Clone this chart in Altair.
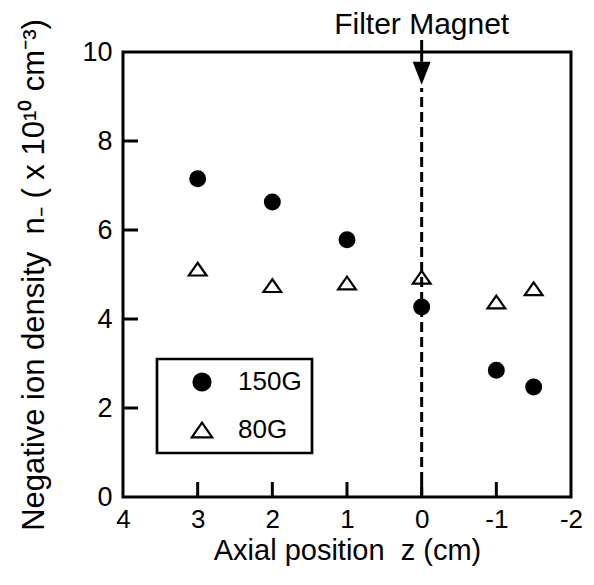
import altair as alt
import pandas as pd

# ---- data ----
series_names = ["150G", "80G"]
z_150 = [3, 2, 1, 0, -1, -1.5]
n_150 = [7.15, 6.63, 5.78, 4.27, 2.85, 2.47]
z_80 = [3, 2, 1, 0, -1, -1.5]
n_80 = [5.12, 4.75, 4.81, 4.94, 4.38, 4.68]

x_tick_values = [4, 3, 2, 1, 0, -1, -2]
y_tick_values = [0, 2, 4, 6, 8, 10]
x_inner_ticks = [3, 2, 1, 0, -1]
y_inner_ticks = [2, 4, 6, 8]

magnet_z = [0]
dash_bottom = [0]
dash_top = [9.19]
arrow_start = [10.27]
arrow_end = [9.78]
arrow_head = [9.52]
magnet_label_y = [10.4]
magnet_label = ["Filter Magnet"]

FONT = "Liberation Sans, Arial, Helvetica, sans-serif"
TRI = "M0,-0.86L-1.2,0.86L1.2,0.86Z"
ARROW = "M-0.78,-1L0.78,-1L0,1Z"
NB = "\u00a0"

pts = pd.DataFrame({
    "z": z_150 + z_80,
    "n": n_150 + n_80,
    "series": [series_names[0]] * len(z_150) + [series_names[1]] * len(z_80),
})
dash_df = pd.DataFrame({"z": magnet_z, "n": dash_bottom, "n2": dash_top})
shaft_df = pd.DataFrame({"z": magnet_z, "n": arrow_start, "n2": arrow_end})
head_df = pd.DataFrame({"z": magnet_z, "n": arrow_head})
label_df = pd.DataFrame({"z": magnet_z, "n": magnet_label_y, "label": magnet_label})
xt_df = pd.DataFrame({"z": x_inner_ticks})
yt_df = pd.DataFrame({"n": y_inner_ticks})

x_scale = alt.Scale(domain=[4, -2], nice=False, zero=False)
y_scale = alt.Scale(domain=[0, 10], nice=False, zero=False)

x_title = "Axial position" + NB * 2 + "z" + NB + "(cm)"
y_title = ("Negative ion density" + NB * 2 + "n\u208b" + NB + "(" + NB + "x" + NB
           + "10\u00b9\u2070" + NB + "cm\u207b\u00b3)")

x_axis = alt.Axis(
    values=x_tick_values, title=x_title, ticks=False, domain=False,
    grid=False, labelExpr="toString(datum.value)", labelFontSize=26, labelFont=FONT,
    labelColor="black", labelPadding=9, labelFlush=False, labelOverlap=False,
    titleFont=FONT, titleFontSize=29, titleFontWeight="normal", titleColor="black",
    titlePadding=4,
)
y_axis = alt.Axis(
    values=y_tick_values, title=y_title,
    ticks=False, domain=False, grid=False, labelFontSize=27, labelFont=FONT,
    labelColor="black", labelPadding=11, labelFlush=False, labelOverlap=False,
    titleFont=FONT, titleFontSize=31, titleFontWeight="normal", titleColor="black",
    titlePadding=31,
)


def X(field="z"):
    return alt.X(f"{field}:Q", scale=x_scale, axis=x_axis)


def Y(field="n"):
    return alt.Y(f"{field}:Q", scale=y_scale, axis=y_axis)


dash = alt.Chart(dash_df).mark_rule(color="black", strokeWidth=3, strokeDash=[10, 5]).encode(
    x=X(), y=Y(), y2="n2:Q"
)
shaft = alt.Chart(shaft_df).mark_rule(color="black", strokeWidth=3).encode(
    x=X(), y=Y(), y2="n2:Q"
)
head = alt.Chart(head_df).mark_point(shape=ARROW, size=529, filled=True, color="black", opacity=1).encode(
    x=X(), y=Y()
)
label = alt.Chart(label_df).mark_text(
    font=FONT, fontSize=30, color="black", align="center", baseline="alphabetic"
).encode(x=X(), y=Y(), text="label:N")

xticks = alt.Chart(xt_df).mark_rule(color="black", strokeWidth=3).encode(
    x=X(), y=alt.value(445), y2=alt.value(430)
)
yticks = alt.Chart(yt_df).mark_rule(color="black", strokeWidth=3).encode(
    y=Y(), x=alt.value(0), x2=alt.value(15)
)

legend = alt.Legend(
    title=None, orient="none", legendX=34, legendY=307,
    strokeColor="black", padding=10, symbolOffset=22, labelOffset=23,
    rowPadding=22, labelFontSize=26, labelFont=FONT, labelColor="black",
    symbolSize=289, symbolStrokeWidth=2.2, symbolStrokeColor="black", symbolOpacity=1,
)

points = alt.Chart(pts).mark_point(
    filled=True, strokeWidth=2.2, opacity=1, size=219
).encode(
    x=X(), y=Y(),
    shape=alt.Shape("series:N", scale=alt.Scale(domain=series_names, range=["circle", TRI]), legend=legend),
    fill=alt.Fill("series:N", scale=alt.Scale(domain=series_names, range=["black", "transparent"]), legend=legend),
    stroke=alt.Stroke("series:N", scale=alt.Scale(domain=series_names, range=["black", "black"]), legend=legend),
)

chart = alt.layer(dash, shaft, head, label, xticks, yticks, points).properties(
    width=448, height=445,
    padding={"left": 123, "top": 52, "right": 23, "bottom": 88},
    autosize="none",
).configure_view(stroke="black", strokeWidth=3).configure_legend(strokeWidth=2.7)

chart.save("out.html", embed_options={"renderer": "svg", "actions": False})
